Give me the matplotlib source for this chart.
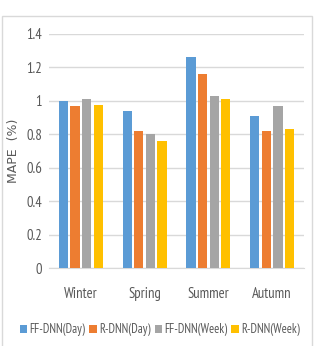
import numpy as np
import matplotlib
matplotlib.use("Agg")
from matplotlib import pyplot as plt
from matplotlib.patches import Rectangle

seasons = ["Winter", "Spring", "Summer", "Autumn"]
series_names = ["FF-DNN(Day)", "R-DNN(Day)", "FF-DNN(Week)", "R-DNN(Week)"]
ff_day = [1.00, 0.94, 1.26, 0.91]
r_day = [0.97, 0.82, 1.16, 0.82]
ff_week = [1.01, 0.80, 1.03, 0.97]
r_week = [0.975, 0.76, 1.01, 0.83]
colors = ["#5B9BD5", "#ED7D31", "#A5A5A5", "#FFC000"]

plt.rcParams['font.family'] = ['PT Sans Narrow', 'DejaVu Sans']

fig = plt.figure(figsize=(3.14, 3.46), dpi=100)
ax = fig.add_axes([0.156, 0.2254, 0.812, 0.6772])

# chart border like the excel chart area
fig.patches.append(Rectangle((2 / 314, -0.01), 310 / 314, 1 - 16 / 346 + 0.01,
                             transform=fig.transFigure, fill=False,
                             edgecolor="#D9D9D9", linewidth=1.0))

x = np.arange(len(seasons))
width = 0.145
step = 0.182
all_series = [ff_day, r_day, ff_week, r_week]
for i, (vals, name) in enumerate(zip(all_series, series_names)):
    ax.bar(x + (i - 1.5) * step, vals, width, color=colors[i], label=name, zorder=3)

ax.set_xlim(-0.5, len(seasons) - 0.5)
ax.set_ylim(0, 1.4)
ax.set_yticks(np.arange(0, 1.41, 0.2))
ax.set_yticklabels(["0", "0.2", "0.4", "0.6", "0.8", "1", "1.2", "1.4"])
ax.set_xticks(x)
ax.set_xticklabels(seasons)
ax.grid(axis="y", color="#D9D9D9", linewidth=1.0, zorder=0)
for s in ["top", "right", "left"]:
    ax.spines[s].set_visible(False)
ax.spines["bottom"].set_color("#D9D9D9")
ax.tick_params(axis="both", length=0, labelsize=10.5, colors="#595959")
ax.tick_params(axis="x", pad=14)
ax.tick_params(axis="y", pad=5)
ax.set_ylabel("MAPE  (%)", fontsize=9, color="#595959", family="DejaVu Sans")
ax.yaxis.set_label_coords(-29 / 255, 0.5)

ax.legend(loc="center", bbox_to_anchor=(0.435, (1 - 330 / 346 - 0.2254) / 0.6772),
          ncol=4, frameon=False, fontsize=9, handlelength=0.6, handleheight=0.6,
          handletextpad=0.2, columnspacing=0.3, labelcolor="#595959")

fig.savefig("out.png", dpi=100)
